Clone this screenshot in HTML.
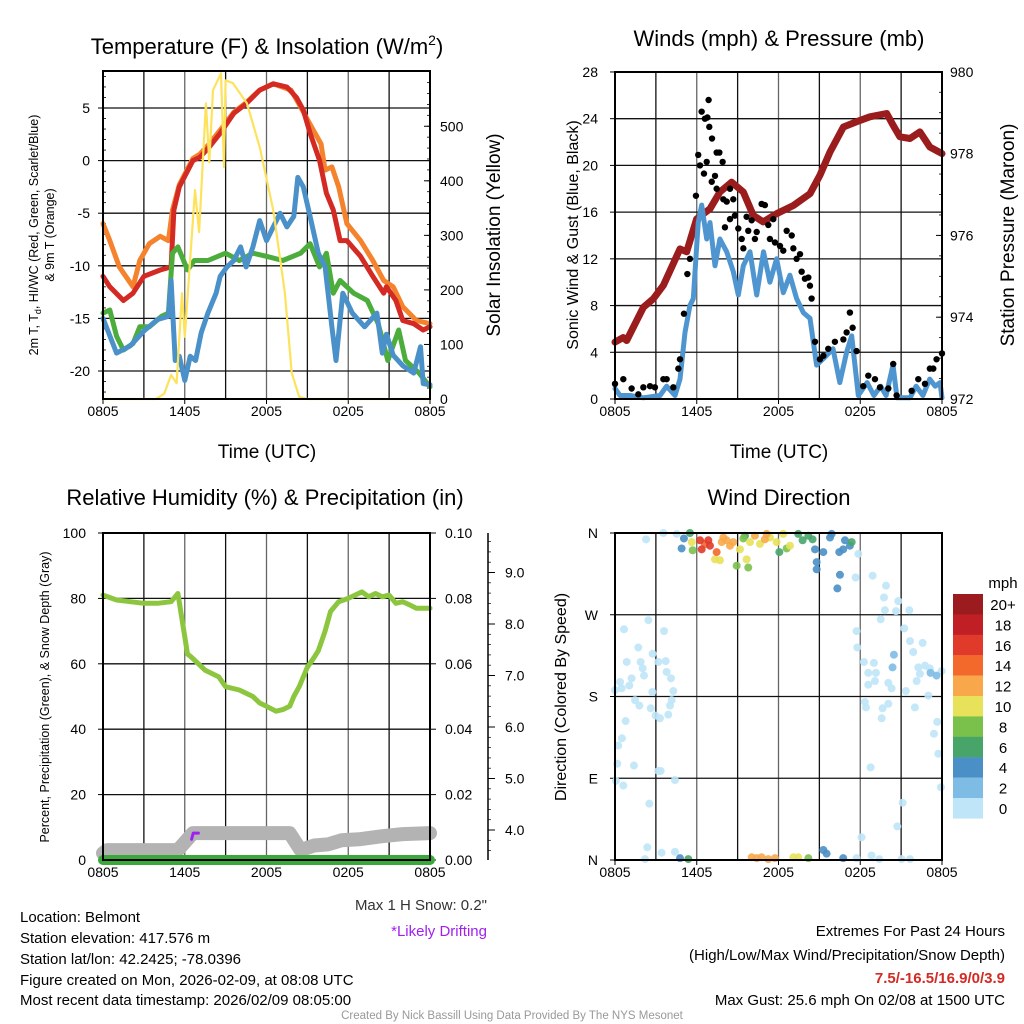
<!DOCTYPE html>
<html><head><meta charset="utf-8"><style>
html,body{margin:0;padding:0;background:#fff;}
svg{display:block;font-family:"Liberation Sans",Arial,sans-serif;}
</style></head><body>
<svg id="s" width="1024" height="1024" viewBox="0 0 1024 1024" xmlns="http://www.w3.org/2000/svg">
<rect width="1024" height="1024" fill="#fff"/>
<g id="g"></g>
<text x="267" y="54" font-size="22" text-anchor="middle">Temperature (F) &amp; Insolation (W/m<tspan font-size="14" dy="-9">2</tspan><tspan dy="9">)</tspan></text>
<text x="779" y="46" font-size="22" text-anchor="middle">Winds (mph) &amp; Pressure (mb)</text>
<text x="265" y="505" font-size="22" text-anchor="middle">Relative Humidity (%) &amp; Precipitation (in)</text>
<text x="779" y="505" font-size="22" text-anchor="middle">Wind Direction</text>
<text x="267" y="458" font-size="19" text-anchor="middle">Time (UTC)</text>
<text x="779" y="458" font-size="19" text-anchor="middle">Time (UTC)</text>
<text transform="translate(38,235) rotate(-90)" font-size="12.5" text-anchor="middle">2m T, T<tspan font-size="9" dy="3">d</tspan><tspan dy="-3">, HI/WC (Red, Green, Scarlet/Blue)</tspan></text>
<text transform="translate(54,235) rotate(-90)" font-size="12.5" text-anchor="middle">&amp; 9m T (Orange)</text>
<text transform="translate(500,235) rotate(-90)" font-size="19" text-anchor="middle">Solar Insolation (Yellow)</text>
<text transform="translate(578,235) rotate(-90)" font-size="16" text-anchor="middle">Sonic Wind &amp; Gust (Blue, Black)</text>
<text transform="translate(1014,235) rotate(-90)" font-size="19" text-anchor="middle">Station Pressure (Maroon)</text>
<text transform="translate(49,697) rotate(-90)" font-size="12.5" text-anchor="middle">Percent, Precipitation (Green), &amp; Snow Depth (Gray)</text>
<text transform="translate(566,697) rotate(-90)" font-size="16" text-anchor="middle">Direction (Colored By Speed)</text>
<text x="487" y="910" font-size="15" text-anchor="end" fill="#333">Max 1 H Snow: 0.2"</text>
<text x="487" y="936" font-size="15" text-anchor="end" fill="#a020f0">*Likely Drifting</text>
<g font-size="15">
<text x="20" y="922">Location: Belmont</text>
<text x="20" y="943">Station elevation: 417.576 m</text>
<text x="20" y="964">Station lat/lon: 42.2425; -78.0396</text>
<text x="20" y="985">Figure created on Mon, 2026-02-09, at 08:08 UTC</text>
<text x="20" y="1005">Most recent data timestamp: 2026/02/09 08:05:00</text>
</g>
<g font-size="15" text-anchor="end">
<text x="1005" y="936">Extremes For Past 24 Hours</text>
<text x="1005" y="960">(High/Low/Max Wind/Precipitation/Snow Depth)</text>
<text x="1005" y="983" fill="#d42a24" font-weight="bold">7.5/-16.5/16.9/0/3.9</text>
<text x="1005" y="1005">Max Gust: 25.6 mph On 02/08 at 1500 UTC</text>
</g>
<text x="512" y="1019" font-size="11.5" text-anchor="middle" fill="#999">Created By Nick Bassill Using Data Provided By The NYS Mesonet</text>
<text x="1003" y="588" font-size="15" text-anchor="middle">mph</text>
</svg>
<script>
// ---- Temperature panel data ----
const tRedH=[0,0.5,1.5,2.2,3,4.2,5,5.2,5.6,6.6,7.1,7.8,8.6,9.6,10.5,11.5,12.5,13.5,14.2,14.7,15.2,15.9,16.4,16.9,17.4,17.9,18.9,19.8,20.6,20.8,21.5,22,22.8,23.5,24];
const tRed=[-11,-12,-13.3,-12.6,-11,-10.4,-10.1,-4.7,-2.5,0,0.3,1.3,2.6,4.5,5.4,6.7,7.3,7,6,4.8,2.6,0,-3.1,-4.7,-7.6,-7.6,-9.1,-11,-12.6,-12,-13.3,-15.2,-15.5,-16.1,-15.8];
const tOrgH=[0,0.5,1.2,2.2,2.7,3.4,4.2,4.8,5.1,5.6,6.6,7.1,7.8,8.6,9.6,10.5,11.5,12.5,13.8,14.5,15.3,16.0,16.3,16.8,17.3,17.9,18.9,19.8,20.6,21.3,22,23,24];
const tOrg=[-6,-7.6,-10.1,-12,-9.5,-7.9,-7.2,-7.6,-4.7,-2.3,0.2,0.6,1.6,2.9,4.6,5.5,6.7,7.3,6.7,5.1,3.2,1.6,-0.9,-0.6,-2.5,-6,-7.6,-9.5,-11.4,-12,-13.9,-15.2,-15.5];
const tGrnH=[0,0.5,1,1.5,2.2,2.7,3.4,4.3,4.8,5.1,5.5,6.2,6.7,7.7,9,10,11,12,13.2,14.5,15.2,15.9,16.4,16.9,17.4,18.4,19.4,20.2,20.9,21.7,22.2,23.2,24];
const tGrn=[-14.5,-14.2,-16.7,-18,-17.4,-15.8,-15.8,-14.8,-14.5,-8.8,-8.2,-10.4,-9.5,-9.5,-8.8,-9.5,-8.8,-9.1,-9.5,-8.8,-7.9,-10.1,-8.8,-12.6,-11.4,-12.6,-13.3,-15.5,-19,-16.1,-19,-20.2,-21.5];
const tBluH=[0,1,2,3,4,4.8,5.0,5.3,5.6,6.0,6.4,6.8,7.2,7.7,8.3,8.6,9.1,9.6,10.1,10.5,11.0,11.5,12.0,12.5,13.0,13.5,14.0,14.3,14.7,15.2,15.8,16.3,16.8,17.1,17.6,18.3,19.2,20.1,20.5,20.8,21.3,22.0,22.8,23.3,23.5,24];
const tBlu=[-15,-18.3,-17.6,-16.2,-15.1,-14.8,-11.4,-19,-18.6,-20.9,-18.6,-19,-16.4,-14.5,-12.6,-11,-10.1,-9.5,-8.2,-10.1,-8.2,-5.7,-7.6,-6.3,-5,-6.3,-5.3,-1.6,-2.5,-5.3,-8.8,-10.1,-15.8,-19,-12.6,-14.5,-15.8,-14.5,-18.3,-16.5,-18.5,-19.5,-20.2,-17.7,-21.2,-21.3];
const solH=[0,3.9,4.5,5.0,5.4,5.8,6.0,6.75,7.05,7.55,7.8,8.07,8.66,8.88,9.0,9.54,10.56,11.5,12.5,13.35,13.85,14.4,15,24];
const solV=[0,0,10,44,29,194,114,383,306,542,434,566,597,425,584,579,542,462,346,194,48,4,0,0];
const tempTicks=[5,0,-5,-10,-15,-20];
const solTicks=[0,100,200,300,400,500];
const timeLabels=["0805","1405","2005","0205","0805"];
// ---- Wind panel data ----
const presH=[0,0.6,0.86,2.08,2.81,3.55,4.77,5.26,5.99,6.97,7.7,8.56,9.42,10.15,10.88,11.86,13.09,14.31,15.04,15.78,16.76,17.73,18.71,19.94,20.42,20.91,21.65,22.38,23.11,24];
const presV=[973.39,973.5,973.43,974.24,974.45,974.78,975.67,975.6,976.4,976.65,977.06,977.3,977.06,976.49,976.33,976.53,976.73,977.02,977.47,978.04,978.65,978.78,978.9,978.98,978.69,978.41,978.37,978.53,978.16,978.0];
const windH=[0,0.37,1.1,2.08,3.3,3.79,4.4,4.77,5.14,5.5,5.75,6.11,6.36,6.73,6.97,7.34,7.7,8.2,8.68,9.05,9.42,9.91,10.4,10.9,11.37,11.86,12.35,12.84,13.33,13.82,14.31,14.8,15.5,16.0,16.5,17,17.37,17.86,18.5,19,19.5,19.9,20.4,20.7,21.65,22.1,22.6,23.1,23.5,23.85,24];
const windV=[0.9,0.3,0.3,0.1,0.3,1.1,0.3,1.7,5.7,8,8.6,15.1,16.6,13.7,15.1,11.4,13.7,12.6,10.9,8.9,11.4,12.6,8.9,12.6,10,12,9.1,10.6,8.6,7.4,6.9,2.9,3.7,4.3,1.4,4,5.4,0.3,1.4,0.3,1.1,0.3,2.9,0.1,0.1,1.1,0.3,1.7,1.1,1.4,0.1];
const gustH=[0,0.61,1.22,1.71,2.08,2.57,2.93,3.55,3.79,4.28,4.65,4.77,5.06,5.31,5.5,5.94,6.11,6.24,6.36,6.6,6.87,6.78,6.92,7.12,6.53,6.73,7.34,7.46,7.66,7.9,7.1,7.46,7.95,8.2,8.44,8.68,8.07,8.44,8.8,9.05,9.3,9.42,9.66,9.78,10.03,10.27,10.4,10.76,11.0,11.25,11.62,11.37,11.74,12.11,12.35,12.6,12.97,13.09,13.33,13.58,13.7,13.94,14.19,14.31,14.43,14.68,15.04,15.29,15.65,16.14,16.76,17.0,17.24,17.44,17.73,18.22,18.59,19.08,19.45,20.06,20.42,20.67,21.77,22.26,22.75,23.11,23.36,23.6,24.0];
const gustV=[1.3,1.7,0.9,0.4,1,1.1,1,1.7,1.7,1,2.6,3.4,7.3,10.7,12,17.4,20.9,20,24.6,24,25.6,24.1,23.3,22.3,19.3,20.3,19.1,21.1,21.1,20.3,18.6,18,17.1,16.9,18,17.1,14.7,15.4,15.7,14.6,13.7,12.9,15.6,14.4,15.3,13.7,14.3,16.7,16.6,14.9,15.4,13.7,13.4,13.1,12.7,14.4,14,12.9,12,12.4,10.9,10.3,10.4,9.7,8.6,4.9,3.4,3.7,4.3,4.9,5.1,5.7,7.4,6.1,4.1,1.1,2,1.7,1,0.9,3,0.3,0.7,1.7,1.3,2.6,2.6,3.4,3.9];
const windTicks=[0,4,8,12,16,20,24,28];
const presTicks=[972,974,976,978,980];
// ---- RH panel data ----
const rhH=[0,1,2,3,4,5,5.5,6.2,6.5,7,7.5,8.5,9,10,11,11.5,12,12.7,13.2,13.7,14,14.4,15,15.5,15.8,16.3,16.7,17.3,18,18.5,19,19.5,20,20.5,21,21.5,22,22.5,23,24];
const rhV=[81,79.5,79,78.5,78.5,79,81.5,63,62,60,58,56,53,52,50,48,47,45.5,46,47,50,53,59,62,64,70,76,79,80,81,82,80.5,81.5,80.5,81,78.5,79,78,77,77];
const snowH=[0,0.3,0.8,5.5,6.6,13.7,14.5,15.5,16.5,17.5,18.8,20.5,22,24];
const snowV=[3.55,3.61,3.61,3.61,3.94,3.94,3.61,3.7,3.72,3.8,3.82,3.88,3.92,3.94];
const precipH=[0,24];
const precipV=[0,0];
const driftH=[6.5,6.62,7.0];
const driftV=[3.82,3.94,3.94];
const rhTicks=[0,20,40,60,80,100];
const prTicks=["0.00","0.02","0.04","0.06","0.08","0.10"];
const snowTicks=[4,5,6,7,8,9];
// ---- Wind direction data ----
const dirH=[2.28,3.55,4.53,2.45,0.66,3.6,1.71,2.76,0.86,1.88,2.03,3.18,3.72,3.79,4.11,2.13,1.22,1.05,0.37,0.0,0.49,2.74,4.28,1.47,1.79,4.16,2.62,4.04,2.98,3.3,3.91,0.78,0.51,0.24,0.17,1.39,3.18,3.35,4.4,0.07,0.61,2.52,2.37,2.2,3.42,4.4,
17.86,17.66,18.91,19.89,19.74,20.79,19.81,20.62,21.6,19.5,21.23,17.73,17.78,21.65,22.58,21.89,18.27,19.0,18.59,19.15,19.08,18.59,20.06,20.3,21.35,22.26,22.75,23.1,23.97,22.38,22.14,23.0,18.34,18.42,19.64,20.06,22.01,19.57,23.65,23.41,23.73,18.76,23.92,21.11,20.72,18.1,18.83,19.4,17.73,21.04,21.65,
16.51,16.32,14.8,14.8,14.68,15.29,16.46,16.75,17.24,16.88,15.9,15.78,4.89,5.06,4.77,15.29,15.53,16.75,20.47,20.37,23.16,23.6,
5.5,5.7,8.93,9.78,9.42,9.54,13.45,13.77,14.19,14.5,12.06,12.6,17.37,5.38,14.19,
5.63,7.34,7.7,9.17,9.66,9.91,10.64,11.37,11.86,12.35,12.84,13.09,13.45,
7.95,8.19,8.44,7.83,8.68,10.27,11.0,11.13,10.03,10.4,10.76,11.25,11.74,
6.24,6.36,6.85,6.97,7.46,6.6];
const dirDeg=[353,360,359,264,254,252,234,227,218,218,211,218,219,207,200,203,200,192,196,187,189,185,186,176,170,176,167,170,159,156,160,153,134,126,106,104,98,98,88,87,82,62,14,1,8,9,
337,311,313,302,289,285,275,274,275,265,255,252,234,241,239,229,218,217,206,206,197,193,195,189,186,212,214,211,208,205,197,181,174,168,167,172,168,156,152,139,117,102,80,63,37,25,5,1,2,1,1,
314,299,320,328,342,339,339,342,346,352,359,355,343,354,2,11,7,2,226,212,206,203,
360,341,324,322,354,357,359,352,357,353,339,343,350,1,2,
350,331,330,342,331,350,348,355,350,359,346,3,3,
355,352,346,350,350,357,353,359,3,2,3,1,2,
352,342,352,346,339,348];
const dirSpd=[1,1,1,1,1,1,1,1,1,1,1,1,1,1,1,1,1,1,1,1,1,1,1,1,1,1,1,1,1,1,1,1,1,1,1,1,1,1,1,1,1,1,1,1,1,1,
1,1,1,1,1,1,1,1,1,1,1,1,1,1,1,1,1,1,1,1,1,1,1,1,1,1,1,1,1,1,1,1,1,1,1,1,1,1,1,1,1,1,1,1,1,1,1,1,1,1,1,
5,5,5,5,5,5,5,5,5,5,5,5,5,5,5,5,5,5,3,3,3,3,
7,9,9,9,9,7,7,7,7,7,7,9,7,7,9,
11,11,11,11,11,11,11,11,11,11,11,11,11,
13,13,13,13,13,13,13,13,13,13,13,13,13,
17,17,17,17,15,15];
const dirLabels=["N","W","S","E","N"];
const cbLabels=["20+","18","16","14","12","10","8","6","4","2","0"];
const cbColors=["#9b1b1e","#c01f26","#e03a2a","#f3682b","#f8a84a","#e8e15a","#7ac14c","#47a56a","#4a8fc6","#7ebce6","#bfe5f8"];

const NS="http://www.w3.org/2000/svg";
const G=document.getElementById('g');
function mk(tag,attrs,parent){const e=document.createElementNS(NS,tag);for(const k in attrs)e.setAttribute(k,attrs[k]);(parent||G).appendChild(e);return e;}
function txt(x,y,s,size,anchor,parent){const t=mk('text',{x:x,y:y,'font-size':size,'text-anchor':anchor},parent);t.textContent=s;return t;}
function poly(H,V,sx,sy,color,w,name,parent){
  const pts=H.map((h,i)=>sx(h).toFixed(1)+','+sy(V[i]).toFixed(1)).join(' ');
  const p=mk('polyline',{points:pts,fill:'none',stroke:color,'stroke-width':w,'stroke-linejoin':'round','stroke-linecap':'round'},parent);
  
  
  return p;}
function frame(x0,y0,w,h,name,yGrid){
  const g=mk('g',{});
  
  
  for(let i=1;i<8;i++){const x=x0+w*i/8;const l=mk('line',{x1:x,x2:x,y1:y0,y2:y0+h,stroke:i%2?'#111':'#666','stroke-width':1.3},g);
    
    }
  yGrid.forEach(y=>{const l=mk('line',{x1:x0,x2:x0+w,y1:y,y2:y,stroke:'#111','stroke-width':1.3},g);
    
    });
  timeLabels.forEach((s,i)=>{const t=txt(x0+w*i/4,y0+h+17,s,14,'middle',g);
    
    
    mk('line',{x1:x0+w*i/4,x2:x0+w*i/4,y1:y0+h,y2:y0+h+5,stroke:'#000'},g);});
  return g;}
function border(x0,y0,w,h){const r=mk('rect',{x:x0,y:y0,width:w,height:h,fill:'none',stroke:'#000','stroke-width':2});
  
  }

// Temperature panel
(function(){
 const x0=103,y0=71,w=327,h=328;
 const sx=v=>x0+v/24*w, yT=v=>108+(5-v)*10.52, yS=v=>399-v*0.5455;
 frame(x0,y0,w,h,'temperature-grid',tempTicks.map(yT));
 tempTicks.forEach(v=>{const t=txt(90,yT(v)+5,String(v),14,'end');
  
  
  mk('line',{x1:x0-5,x2:x0,y1:yT(v),y2:yT(v),stroke:'#000'});});
 for(let v=-22;v<=8;v++){mk('line',{x1:x0,x2:x0+3,y1:yT(v),y2:yT(v),stroke:'#000','stroke-width':0.8});}
 solTicks.forEach(v=>{const t=txt(440,yS(v)+5,String(v),14,'start');
  
  
  mk('line',{x1:x0+w-6,x2:x0+w,y1:yS(v),y2:yS(v),stroke:'#000'});});
 for(let v=20;v<600;v+=20){mk('line',{x1:x0+w-3,x2:x0+w,y1:yS(v),y2:yS(v),stroke:'#000','stroke-width':0.8});}
 poly(tOrgH,tOrg,sx,yT,'#f5822c',5,'orange-9m-temp-line');
 poly(tRedH,tRed,sx,yT,'#d42a24',5,'red-2m-temp-line');
 poly(tGrnH,tGrn,sx,yT,'#4cad3c',5,'green-windchill-line');
 poly(tBluH,tBlu,sx,yT,'#4a91c9',5,'blue-dewpoint-line');
 poly(solH,solV,sx,yS,'#fde35c',2.2,'yellow-solar-line');
 border(x0,y0,w,h);
})();

// Wind panel
(function(){
 const x0=615,y0=72,w=327,h=327;
 const sx=v=>x0+v/24*w, yW=v=>399-v*11.68, yP=v=>399-(v-972)*40.9;
 frame(x0,y0,w,h,'wind-grid',windTicks.map(yW));
 windTicks.forEach(v=>{const t=txt(598,yW(v)+5,String(v),14,'end');
  
  
  mk('line',{x1:x0-5,x2:x0,y1:yW(v),y2:yW(v),stroke:'#000'});});
 presTicks.forEach(v=>{const t=txt(950,yP(v)+5,String(v),14,'start');
  
  
  mk('line',{x1:x0+w-6,x2:x0+w,y1:yP(v),y2:yP(v),stroke:'#000'});});
 for(let v=972;v<980;v+=0.5){mk('line',{x1:x0+w-3,x2:x0+w,y1:yP(v),y2:yP(v),stroke:'#000','stroke-width':0.8});}
 poly(presH,presV,sx,yP,'#9b1c1c',7,'pressure-line');
 poly(windH,windV,sx,yW,'#4f96d0',5,'wind-speed-line');
 gustH.forEach((hh,i)=>{const c=mk('circle',{cx:sx(hh),cy:yW(gustV[i]),r:3.2,fill:'#000'});
  
  });
 border(x0,y0,w,h);
})();

// RH panel
(function(){
 const x0=103,y0=533,w=327,h=327;
 const sx=v=>x0+v/24*w, yR=v=>860-v*3.27, yPr=v=>860-v*3270, ySn=v=>830-(v-4)*51.5;
 frame(x0,y0,w,h,'humidity-grid',rhTicks.map(yR));
 rhTicks.forEach(v=>{const t=txt(86,yR(v)+5,String(v),14,'end');
  
  
  mk('line',{x1:x0-5,x2:x0,y1:yR(v),y2:yR(v),stroke:'#000'});});
 prTicks.forEach(s=>{const v=parseFloat(s);const t=txt(445,yPr(v)+5,s,14,'start');
  
  
  mk('line',{x1:x0+w,x2:x0+w+6,y1:yPr(v),y2:yPr(v),stroke:'#000'});});
 mk('line',{x1:488,x2:488,y1:533,y2:860,stroke:'#000','stroke-width':1.5});
 snowTicks.forEach(v=>{const t=txt(505,ySn(v)+5,v.toFixed(1),14,'start');
  
  
  mk('line',{x1:488,x2:495,y1:ySn(v),y2:ySn(v),stroke:'#000'});});
 for(let v=3.6;v<=9.7;v+=0.2){mk('line',{x1:488,x2:491,y1:ySn(v),y2:ySn(v),stroke:'#000','stroke-width':0.7});}
 poly(snowH,snowV,sx,ySn,'#b3b3b3',14,'snow-depth-line');
 poly(precipH,precipV,sx,yPr,'#3aa83a',10,'precipitation-line');
 poly(rhH,rhV,sx,yR,'#8cc63f',5,'relative-humidity-line');
 poly(driftH,driftV,sx,ySn,'#a020f0',3,'drifting-marker');
 border(x0,y0,w,h);
})();

// Wind direction panel
(function(){
 const x0=615,y0=533,w=327,h=327;
 const sx=v=>x0+v/24*w, yD=d=>860-d/360*327;
 frame(x0,y0,w,h,'direction-grid',[0,90,180,270,360].map(yD));
 dirLabels.forEach((s,i)=>{const t=txt(598,yD(360-i*90)+5,s,14,'end');
  
  
  mk('line',{x1:x0-5,x2:x0,y1:yD(360-i*90),y2:yD(360-i*90),stroke:'#000'});});
 const col=s=>cbColors[10-Math.min(10,Math.floor(s/2))];
 const order=dirH.map((_,i)=>i).sort((a,b)=>dirSpd[a]-dirSpd[b]);
 order.forEach(i=>{const c=mk('circle',{cx:sx(dirH[i]),cy:yD(dirDeg[i]),r:4,fill:col(dirSpd[i]),'fill-opacity':0.9});
  
  });
 border(x0,y0,w,h);
 cbColors.forEach((c,i)=>{const r=mk('rect',{x:953,y:594+i*20.4,width:30,height:20.6,fill:c});
  
  
  const t=txt(1003,594+i*20.4+16,cbLabels[i],15,'middle');
  
  });
})();
</script>
</body></html>
